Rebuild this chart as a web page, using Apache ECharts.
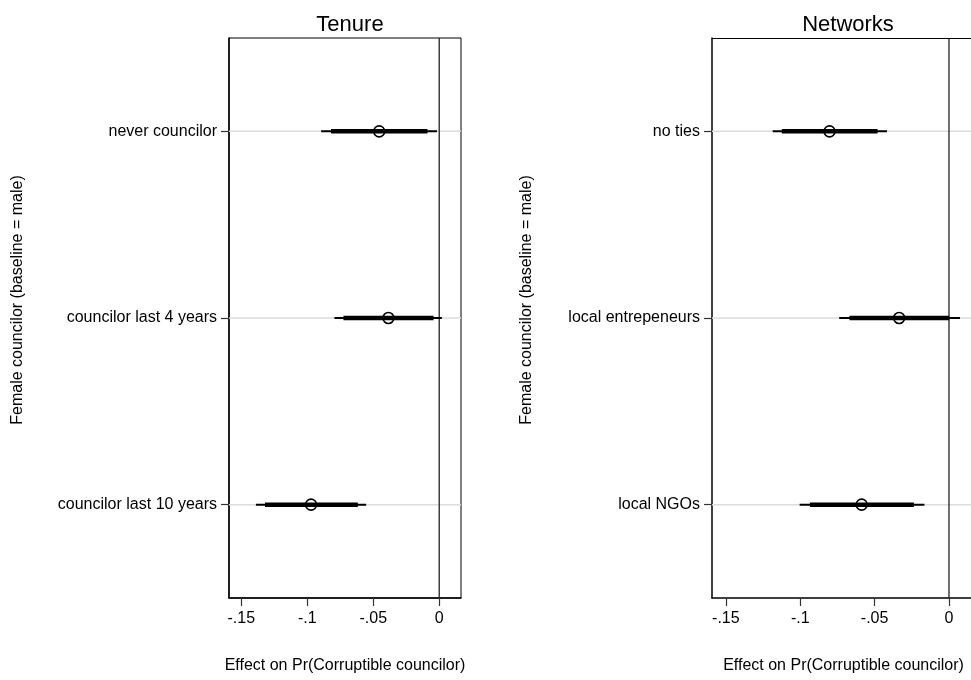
<!DOCTYPE html>
<html>
<head>
<meta charset="utf-8">
<script src="https://cdn.jsdelivr.net/npm/echarts@6/dist/echarts.min.js"></script>
<style>
html,body{margin:0;padding:0;background:#fff;}
#chart{width:971px;height:680px;}
</style>
</head>
<body>
<div id="chart"></div>
<script>
// ---- Data ----
const tenureCats   = ['never councilor', 'councilor last 4 years', 'councilor last 10 years'];
const tenureEst    = [-0.0455, -0.0385, -0.0971];
const tenureLo95   = [-0.0895, -0.0794, -0.1389];
const tenureHi95   = [-0.0017,  0.0020, -0.0554];
const tenureLo90   = [-0.0820, -0.0726, -0.1320];
const tenureHi90   = [-0.0089, -0.0043, -0.0617];

const networkCats  = ['no ties', 'local entrepeneurs', 'local NGOs'];
const networkEst   = [-0.0803, -0.0335, -0.0587];
const networkLo95  = [-0.1185, -0.0738, -0.1004];
const networkHi95  = [-0.0417,  0.0074, -0.0165];
const networkLo90  = [-0.1124, -0.0669, -0.0935];
const networkHi90  = [-0.0480,  0.0002, -0.0236];

const xTicks = [-0.15, -0.1, -0.05, 0];
const xMin = -0.1593;
const xMaxTenure = 0.0165;
const xMaxNetwork = 0.0148;   // right panel is cut off at the image edge
const panelTitles = ['Tenure', 'Networks'];
const xAxisTitle = 'Effect on Pr(Corruptible councilor)';
const yAxisTitle = 'Female councilor (baseline = male)';

// ---- Build ----
const FONT = '"Liberation Sans", Arial, Helvetica, sans-serif';

function rows(cats, lo95, hi95, lo90, hi90, est) {
  return cats.map((c, i) => [i, lo95[i], hi95[i], lo90[i], hi90[i], est[i]]);
}

function ciRender(params, api) {
  const y = api.value(0);
  const a = api.coord([api.value(1), y]);
  const b = api.coord([api.value(2), y]);
  const c = api.coord([api.value(3), y]);
  const d = api.coord([api.value(4), y]);
  const e = api.coord([api.value(5), y]);
  return {
    type: 'group',
    children: [
      { type: 'line', shape: { x1: a[0], y1: a[1], x2: b[0], y2: b[1] },
        style: { stroke: '#000', lineWidth: 2 } },
      { type: 'line', shape: { x1: c[0], y1: c[1], x2: d[0], y2: d[1] },
        style: { stroke: '#000', lineWidth: 4.5 } },
      { type: 'circle', shape: { cx: e[0], cy: e[1], r: 5.5 },
        style: { stroke: '#000', lineWidth: 1.6, fill: null } }
    ]
  };
}

function gridLineRender(params, api) {
  const cs = params.coordSys;
  const p = api.coord([0, api.value(0)]);
  return {
    type: 'line',
    shape: { x1: cs.x, y1: p[1], x2: cs.x + cs.width, y2: p[1] },
    style: { stroke: '#dcdcdc', lineWidth: 1.5 }
  };
}

function makeZeroRender(withTop) {
  return function (params, api) {
    const cs = params.coordSys;
    const p = api.coord([api.value(0), 0]);
    const children = [{
      type: 'line',
      shape: { x1: p[0], y1: cs.y, x2: p[0], y2: cs.y + cs.height },
      style: { stroke: '#222', lineWidth: 1.3 }
    }];
    if (withTop) {
      children.push({
        type: 'line',
        shape: { x1: cs.x, y1: cs.y + 0.5, x2: cs.x + cs.width + 5, y2: cs.y + 0.5 },
        style: { stroke: '#000', lineWidth: 1 }
      });
    }
    return { type: 'group', children: children };
  };
}

function fmtX(v) {
  if (Math.abs(v) < 1e-9) return '0';
  return String(+v.toFixed(2)).replace('0.', '.');
}

const grids = [
  { left: 229, top: 38, width: 232, height: 560, show: true, borderColor: '#000', borderWidth: 1 },
  { left: 712, top: 38, width: 259, height: 560, show: false }
];
const titleCenters = [345, 843];
const xMaxes = [xMaxTenure, xMaxNetwork];

const xAxes = [0, 1].map(i => ({
  type: 'value', gridIndex: i, min: xMin, max: xMaxes[i],
  name: xAxisTitle, nameLocation: 'middle', nameGap: 60,
  nameTextStyle: { fontFamily: FONT, fontSize: 16, color: '#000' },
  axisLine: { show: true, onZero: false, lineStyle: { color: '#000', width: 1.5 } },
  axisTick: { show: true, length: 8, customValues: xTicks, lineStyle: { color: '#333', width: 1.2 } },
  axisLabel: { customValues: xTicks, formatter: fmtX, margin: 13,
    fontFamily: FONT, fontSize: 16, color: '#000' },
  splitLine: { show: false }
}));
// name of right panel centred on its full (uncut) plot width
xAxes[1].nameTextStyle.padding = [0, 0, 0, 4];

const yAxes = [tenureCats, networkCats].map((cats, i) => ({
  type: 'category', gridIndex: i, data: cats, inverse: true,
  axisLine: { show: true, onZero: false, lineStyle: { color: '#000', width: 1.5 } },
  axisTick: { show: true, alignWithLabel: true, length: 8, lineStyle: { color: '#333', width: 1.2 } },
  axisLabel: { margin: 12, fontFamily: FONT, fontSize: 16, color: '#000' },
  splitLine: { show: false }
}));

const series = [];
[[tenureCats, tenureLo95, tenureHi95, tenureLo90, tenureHi90, tenureEst],
 [networkCats, networkLo95, networkHi95, networkLo90, networkHi90, networkEst]].forEach((d, i) => {
  series.push({
    type: 'custom', xAxisIndex: i, yAxisIndex: i, z: 1, silent: true,
    renderItem: gridLineRender,
    data: d[0].map((c, k) => [k]),
    encode: { y: 0 }
  });
  series.push({
    type: 'custom', xAxisIndex: i, yAxisIndex: i, z: 2, silent: true,
    renderItem: makeZeroRender(i === 1),
    data: [[0]],
    encode: { x: 0 }
  });
  series.push({
    type: 'custom', xAxisIndex: i, yAxisIndex: i, z: 3, silent: true,
    renderItem: ciRender,
    data: rows(...d),
    encode: { y: 0, x: [1, 2, 3, 4, 5] }
  });
});

const chart = echarts.init(document.getElementById('chart'), null, { renderer: 'canvas' });
chart.setOption({
  backgroundColor: '#fff',
  animation: false,
  title: panelTitles.map((t, i) => ({
    text: t,
    left: titleCenters[i],
    top: 9,
    textAlign: 'center',
    textStyle: { fontFamily: FONT, fontSize: 22, fontWeight: 'normal', color: '#000' }
  })),
  grid: grids,
  xAxis: xAxes,
  yAxis: yAxes,
  graphic: [18, 527].map(x => ({
    type: 'text', x: x, y: 300, rotation: Math.PI / 2,
    style: { text: yAxisTitle, fontFamily: FONT, fontSize: 16, fill: '#000',
      textAlign: 'center', textVerticalAlign: 'middle' }
  })),
  series: series
});
</script>
</body>
</html>
